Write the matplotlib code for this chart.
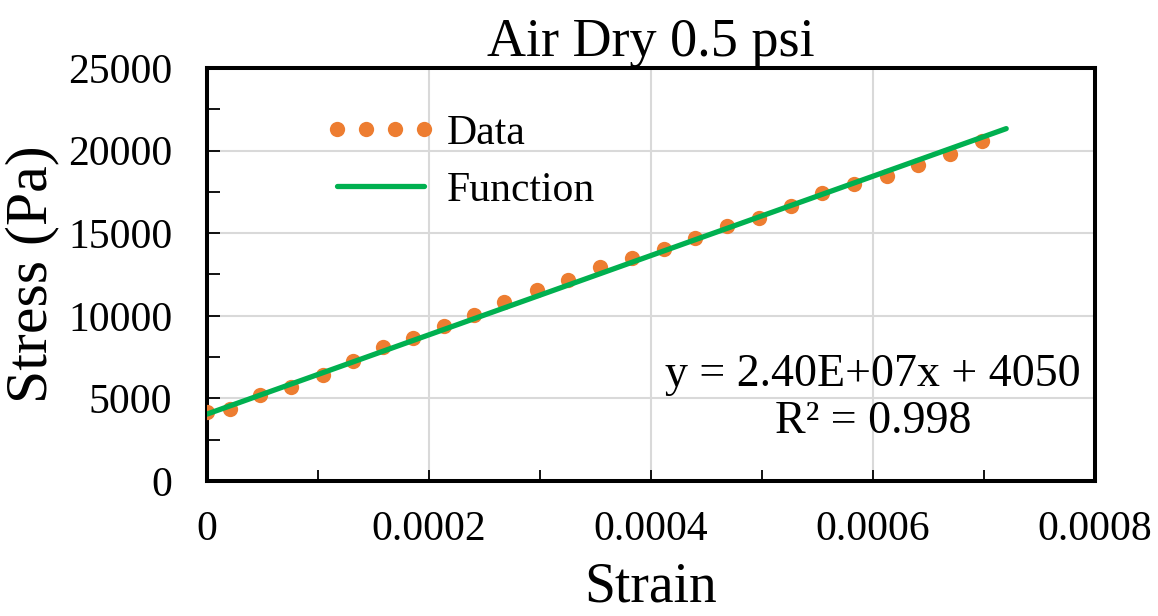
import matplotlib
matplotlib.use("Agg")
import matplotlib.pyplot as plt
from matplotlib.ticker import MultipleLocator
import numpy as np

# measured strain / stress points
strain = [0.0, 2.07e-5, 4.77e-5, 7.57e-5, 1.042e-4, 1.313e-4, 1.589e-4, 1.859e-4,
          2.136e-4, 2.409e-4, 2.679e-4, 2.971e-4, 3.256e-4, 3.541e-4, 3.827e-4,
          4.117e-4, 4.397e-4, 4.683e-4, 4.974e-4, 5.262e-4, 5.539e-4, 5.830e-4,
          6.124e-4, 6.409e-4, 6.694e-4, 6.980e-4]
stress = [4195, 4340, 5206, 5708, 6398, 7264, 8130, 8674,
          9401, 10030, 10854, 11580, 12167, 12936, 13517,
          14044, 14691, 15454, 15938, 16646, 17415, 17978,
          18481, 19110, 19776, 20563]

# linear fit y = a*x + b
slope = 2.40e7
intercept = 4050
fit_x = np.array([0.0, 0.00072])
fit_y = slope * fit_x + intercept

plt.rcParams['font.family'] = ['Liberation Serif', 'DejaVu Serif']

fig = plt.figure(figsize=(11.58, 6.16), dpi=100)
ax = fig.add_axes([0.1788, 0.2192, 0.7668, 0.6704])

ax.plot(strain, stress, 'o', color='#ED7D31', markersize=11, markeredgewidth=0,
        label='Data', zorder=3)
ax.plot(fit_x, fit_y, '-', color='#00B050', linewidth=3.8, solid_capstyle='round',
        label='Function', zorder=4)

ax.set_xlim(0, 0.0008)
ax.set_ylim(0, 25000)
ax.set_xticks([0, 0.0002, 0.0004, 0.0006, 0.0008])
ax.set_xticklabels(['0', '0.0002', '0.0004', '0.0006', '0.0008'])
ax.xaxis.set_minor_locator(MultipleLocator(0.0001))
ax.yaxis.set_major_locator(MultipleLocator(5000))
ax.yaxis.set_minor_locator(MultipleLocator(2500))

ax.grid(True, which='major', color='#D9D9D9', linewidth=1.5, zorder=0)
ax.set_axisbelow(True)

for s in ax.spines.values():
    s.set_linewidth(2.9)
    s.set_color('black')

ax.tick_params(axis='y', which='both', direction='in', length=9, width=1.3,
               labelsize=30, pad=25)
ax.tick_params(axis='x', which='both', direction='in', length=8, width=1.3,
               labelsize=30, pad=21)
ax.tick_params(top=False, right=False)

ax.set_title('Air Dry 0.5 psi', fontsize=39, pad=8)
ax.set_xlabel('Strain', fontsize=40, labelpad=9)
ax.set_ylabel('Stress (Pa)', fontsize=43, labelpad=6)

ax.legend(loc='upper left', bbox_to_anchor=(0.132, 0.888), frameon=False,
          fontsize=30, numpoints=4, handlelength=2.7, handletextpad=0.25,
          labelspacing=0.45, borderpad=0, borderaxespad=0)

ax.text(0.000600, 5000, 'y = 2.40E+07x + 4050\nR² = 0.998', fontsize=33,
        ha='center', va='center', multialignment='center', linespacing=1.15)

fig.savefig('out.png', dpi=100)
